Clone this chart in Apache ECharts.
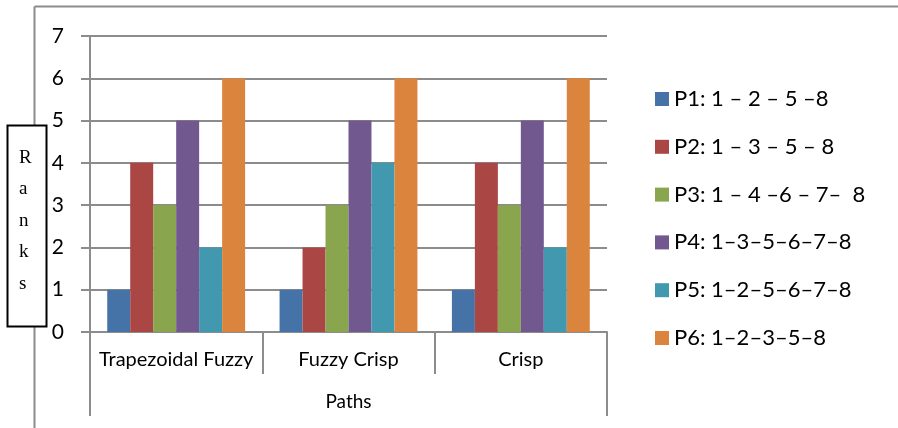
<!DOCTYPE html>
<html>
<head>
<meta charset="utf-8">
<script src="https://cdn.jsdelivr.net/npm/echarts@6/dist/echarts.min.js"></script>
<style>
  html, body { margin: 0; padding: 0; background: #fff; }
  #chart { width: 898px; height: 428px; }
</style>
</head>
<body>
<div id="chart"></div>
<script>
// Rank of each path under the three evaluation methods
const methods = ['Trapezoidal Fuzzy', 'Fuzzy Crisp', 'Crisp'];
const pathNames = [
  'P1: 1 \u2013 2 \u2013 5 \u20138',
  'P2: 1 \u2013 3 \u2013 5 \u2013 8',
  'P3: 1 \u2013 4 \u20136 \u2013 7\u2013  8',
  'P4: 1\u20133\u20135\u20136\u20137\u20138',
  'P5: 1\u20132\u20135\u20136\u20137\u20138',
  'P6: 1\u20132\u20133\u20135\u20138'
];
const p1 = [1, 1, 1];
const p2 = [4, 2, 4];
const p3 = [3, 3, 3];
const p4 = [5, 5, 5];
const p5 = [2, 4, 2];
const p6 = [6, 6, 6];
const yTicks = [0, 1, 2, 3, 4, 5, 6, 7];
const palette = ['#4572A7', '#AA4643', '#89A54E', '#71588F', '#4198AF', '#DB843D'];

const FONT = 'Lato, "Open Sans", sans-serif';
const GRAY = '#8c8c8c';
const rankValues = [p1, p2, p3, p4, p5, p6];

const chart = echarts.init(document.getElementById('chart'));
chart.setOption({
  animation: false,
  color: palette,
  textStyle: { fontFamily: FONT },
  grid: { left: 90, right: 291, top: 36, bottom: 96 },
  legend: {
    orient: 'vertical',
    left: 650,
    top: 82,
    icon: 'rect',
    itemWidth: 14,
    itemHeight: 14,
    itemGap: 23.8,
    textStyle: { fontSize: 22, color: '#000', fontFamily: FONT, lineHeight: 24 },
    data: pathNames
  },
  xAxis: [
    {
      type: 'category',
      data: methods,
      axisLine: { lineStyle: { color: GRAY, width: 2 } },
      axisTick: { show: true, interval: 0, length: 42, lineStyle: { color: GRAY, width: 2 } },
      axisLabel: { interval: 0, color: '#000', fontSize: 20, margin: 18, fontFamily: FONT }
    },
    {
      type: 'category',
      position: 'bottom',
      data: ['Paths'],
      axisLine: { show: false },
      axisTick: { show: true, interval: 0, length: 84, lineStyle: { color: GRAY, width: 2 } },
      axisLabel: { interval: 0, color: '#000', fontSize: 19, margin: 60, fontFamily: FONT }
    }
  ],
  yAxis: {
    type: 'value',
    min: yTicks[0],
    max: yTicks[yTicks.length - 1],
    interval: 1,
    axisLine: { show: true, lineStyle: { color: GRAY, width: 2 } },
    axisTick: { show: true, length: 9, lineStyle: { color: GRAY, width: 2 } },
    splitLine: { lineStyle: { color: GRAY, width: 2 } },
    axisLabel: { color: '#000', fontSize: 21, margin: 26, fontFamily: FONT }
  },
  series: pathNames.map((name, i) => ({
    name: name,
    type: 'bar',
    data: rankValues[i],
    barGap: '0%',
    barCategoryGap: '20%'
  })),
  graphic: [
    // outer chart frame (top and left edges)
    { type: 'line', shape: { x1: 34.5, y1: 6.5, x2: 898, y2: 6.5 }, style: { stroke: GRAY, lineWidth: 2 } },
    { type: 'line', shape: { x1: 34.5, y1: 6.5, x2: 34.5, y2: 428 }, style: { stroke: GRAY, lineWidth: 2 } },
    // boxed vertical axis title
    { type: 'rect', shape: { x: 7.5, y: 125.5, width: 39, height: 201 }, style: { fill: '#fff', stroke: '#000', lineWidth: 2 }, z: 10 },
    {
      type: 'text', left: 19, top: 142, z: 11,
      style: { text: 'R\na\nn\nk\ns', font: '19px "Liberation Serif", "DejaVu Serif", serif', fill: '#000', lineHeight: 31.5, align: 'center', width: 16 }
    }
  ]
});
</script>
</body>
</html>
